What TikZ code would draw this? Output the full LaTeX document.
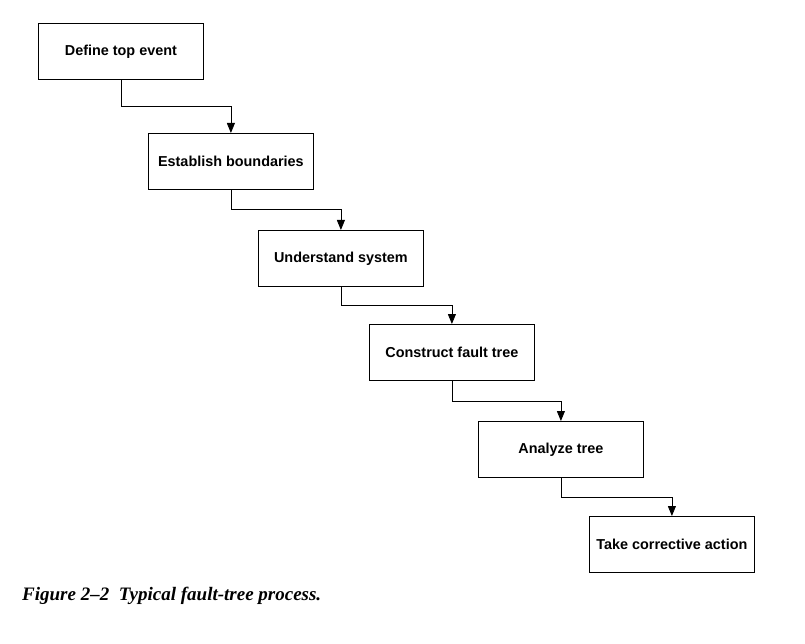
\documentclass[tikz,border=0pt]{standalone}
\usepackage{fontspec}
\setmainfont{Liberation Serif}
\newfontfamily\boxfont{Liberation Sans}
\usepackage{tikz}
\usetikzlibrary{arrows.meta, calc}

\tikzset{
  stepbox/.style = {draw, line width = 0.8pt, minimum width = 165pt, minimum height = 56pt, inner sep = 0pt, anchor = north west, font = \boxfont\bfseries\fontsize{14.4}{16}\selectfont},
  flow/.style = {line width = 0.8pt, -{Triangle[length = 10pt, width = 8pt]}}
}

\begin{document}
\begin{tikzpicture}[x = 1pt, y = -1pt]
\useasboundingbox (0,0) rectangle (805,644);

\node[stepbox] (define) at (38,23) {Define top event};
\node[stepbox] (bound) at (148,133) {Establish boundaries};
\node[stepbox] (system) at (258,230) {Understand system};
\node[stepbox] (construct) at (369,324) {Construct fault tree};
\node[stepbox] (analyze) at (478,421) {Analyze tree};
\node[stepbox] (action) at (589,516) {Take corrective action};

\draw[flow] (define.south) |- ($(define.south)!0.5!(bound.north)$) -| (bound.north);
\draw[flow] (bound.south) |- ($(bound.south)!0.5!(system.north)$) -| (system.north);
\draw[flow] (system.south) |- ($(system.south)!0.5!(construct.north)$) -| (construct.north);
\draw[flow] (construct.south) |- ($(construct.south)!0.5!(analyze.north)$) -| (analyze.north);
\draw[flow] (analyze.south) |- ($(analyze.south)!0.5!(action.north)$) -| (action.north);

\node[anchor = base west, inner sep = 0pt, font = \bfseries\itshape\fontsize{19}{21}\selectfont] (caption) at (22,600) {Figure 2--2\ \ Typical fault-tree process.};
\end{tikzpicture}
\end{document}
